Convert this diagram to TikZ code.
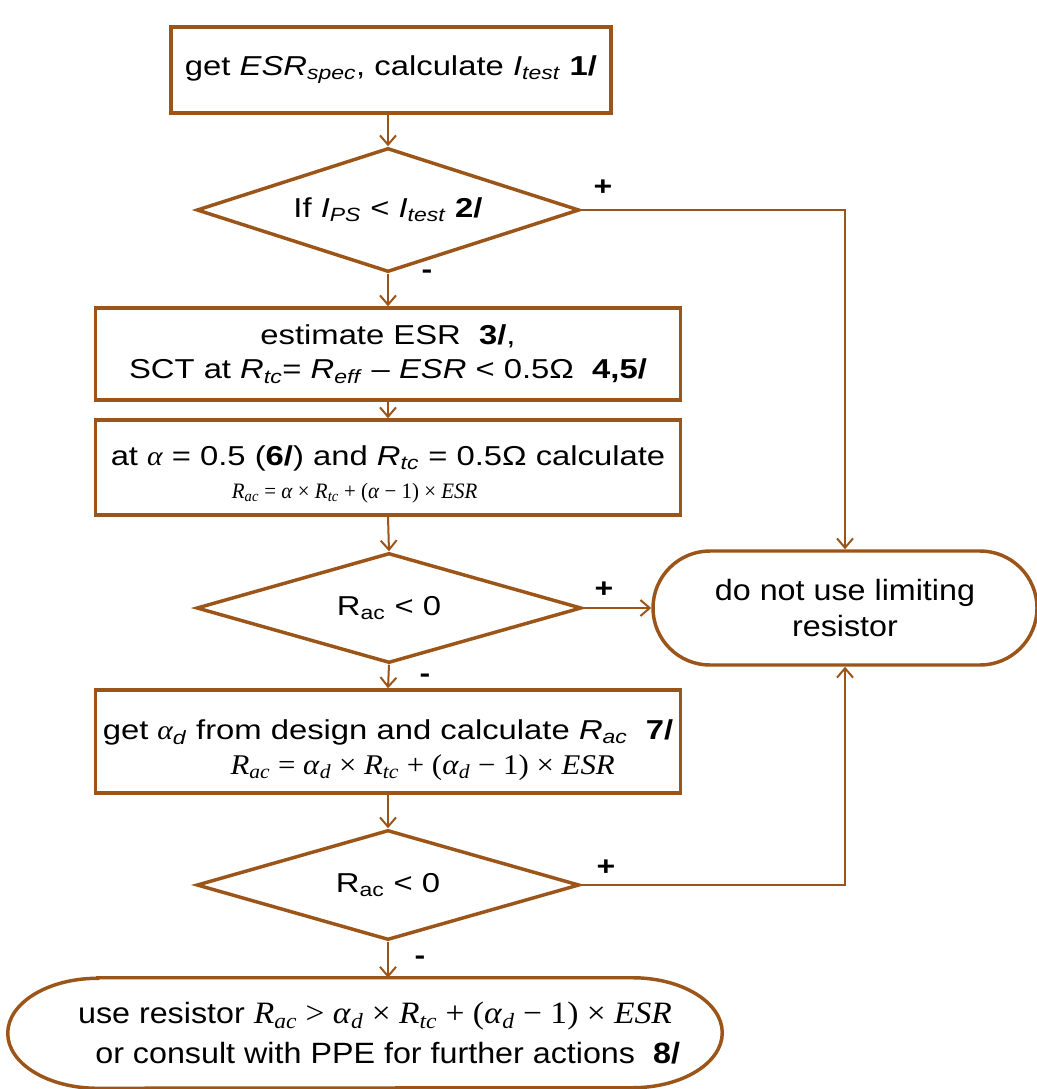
\documentclass[tikz,border=0pt]{standalone}
\usepackage{fontspec}
\usepackage{graphicx}
\setmainfont{Liberation Sans}[FakeStretch=1.2]
\newfontfamily\tnr{Liberation Serif}[FakeStretch=1.08]
\newfontfamily\tnrn{Liberation Serif}[FakeStretch=0.95]
\newfontfamily\botfont{Liberation Sans}[FakeStretch=1.1]
\usetikzlibrary{shapes.geometric,shapes.misc,arrows.meta}
\definecolor{brn}{RGB}{155,85,25}
\newcommand\iv[2]{\textit{#1}\textsubscript{\textit{#2}}}
\tikzset{
  stepbox/.style={draw=brn,line width=2.6pt,fill=white,inner sep=0pt,align=center,
    font=\fontsize{20.5pt}{26pt}\selectfont},
  decbox/.style={draw=brn,line width=2.6pt,fill=white,diamond,aspect=3,inner sep=0pt,
    font=\fontsize{20.5pt}{26pt}\selectfont},
  termbox/.style={draw=brn,line width=2.6pt,fill=white,rounded rectangle,inner sep=0pt,align=center,
    font=\botfont\fontsize{22pt}{27pt}\selectfont},
  conn/.style={draw=brn,line width=1.5pt,-{Straight Barb[length=7pt,width=12pt,line width=1.5pt]}},
  sign/.style={font=\fontsize{20pt}{20pt}\selectfont\bfseries,inner sep=0pt}
}
\begin{document}
\begin{tikzpicture}[x=0.75pt,y=-0.75pt]
\useasboundingbox[fill=white] (0,0) rectangle (1036,1089);

\node[stepbox,minimum width=330pt,minimum height=64.5pt] (b1) at (391,70)
  {get \iv{ESR}{spec}, calculate \iv{I}{test} \textbf{1/}};

\node[decbox,minimum width=287pt,minimum height=93pt] (d1) at (388,210)
  {If \iv{I}{PS} < \iv{I}{test} \textbf{2/}};

\node[stepbox,minimum width=438.75pt,minimum height=69pt] (b3) at (388,354)
  {estimate ESR\ \ \textbf{3/},\\SCT at \iv{R}{tc}= \iv{R}{eff} – \textit{ESR} < 0.5Ω\ \ \textbf{4,5/}};

\node[stepbox,minimum width=438.75pt,minimum height=71.25pt] (b4) at (388,467.5)
  {\rule{0pt}{25pt}at {\tnr\itshape α} = 0.5 (\textbf{6/}) and \iv{R}{tc} = 0.5Ω calculate\\[-1pt]
   \hspace*{-50pt}{\tnrn\fontsize{16.5pt}{17pt}\selectfont \iv{R}{ac} = \textit{α} × \iv{R}{tc} + (\textit{α} − 1) × \textit{ESR}}};

\node[decbox,minimum width=288.75pt,minimum height=82.5pt] (d2) at (389,608)
  {R\textsubscript{ac} < 0};

\node[termbox,minimum width=288pt,minimum height=85.5pt] (t1) at (845,608)
  {do not use limiting\\resistor};

\node[stepbox,minimum width=438.75pt,minimum height=77.25pt] (b7) at (388,741.5)
  {\rule{0pt}{28pt}get {\tnr\itshape α}\textsubscript{\textit{d}} from design and calculate \iv{R}{ac}\ \ \textbf{7/}\\[0pt]
   \hspace*{52pt}{\tnr\fontsize{21.4pt}{22pt}\selectfont \iv{R}{ac} = \iv{α}{d} × \iv{R}{tc} + (\iv{α}{d} − 1) × \textit{ESR}}};

\node[decbox,minimum width=287pt,minimum height=82.5pt] (d3) at (388,885)
  {R\textsubscript{ac} < 0};

% bottom terminal
\node[inner sep=0pt,minimum width=535.5pt,minimum height=82.5pt,align=center,
  font=\botfont\fontsize{22pt}{30pt}\selectfont] (t2) at (365,1033)
  {\hspace*{15pt}use resistor {\tnr\fontsize{23.3pt}{24pt}\selectfont \iv{R}{ac} > \iv{α}{d} × \iv{R}{tc} + (\iv{α}{d} − 1) × \textit{ESR}}\\
   \hspace*{34pt}or consult with PPE for further actions\ \ \textbf{8/}};
\draw[draw=brn,line width=2.6pt]
  ([xshift=67.5pt]t2.north west) -- ([xshift=-67.5pt]t2.north east)
  arc[start angle=90,end angle=-90,x radius=67.5pt,y radius=41.25pt]
  -- ([xshift=67.5pt]t2.south west)
  arc[start angle=270,end angle=90,x radius=67.5pt,y radius=41.25pt] -- cycle;

% connectors
\draw[conn] (b1.south -| d1.north) -- (d1.north);
\draw[conn] (d1.south) -- (b3.north);
\draw[conn] (b3.south) -- (b4.north);
\draw[conn] (b4.south) -- (d2.north);
\draw[conn] (d2.south) -- (b7.north);
\draw[conn] (b7.south) -- (d3.north);
\draw[conn] (d3.south) -- (d3.south |- t2.north);
\draw[conn] (d1.east) -| (t1.north);
\draw[conn] (d2.east) -- (t1.west);
\draw[conn] (d3.east) -| (t1.south);

% signs
\node[sign] (p1) at (603,188) {+};
\node[sign] (m1) at (427,274) {-};
\node[sign] (p2) at (604,590) {+};
\node[sign] (m2) at (425,678) {-};
\node[sign] (p3) at (606,868) {+};
\node[sign] (m3) at (420,960) {-};
\end{tikzpicture}
\end{document}
